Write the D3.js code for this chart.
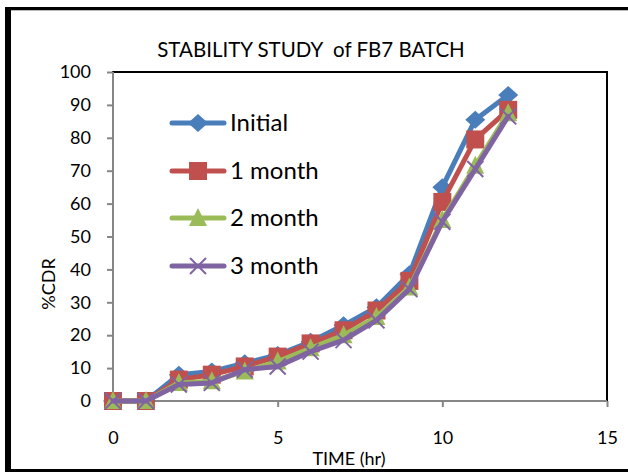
<!DOCTYPE html>
<html>
<head>
<meta charset="utf-8">
<script src="https://cdn.jsdelivr.net/npm/d3@7"></script>
<style>
  body { margin: 0; background: #fff; }
  svg { display: block; font-family: Lato, "Open Sans", sans-serif; }
</style>
</head>
<body>
<svg id="chart" width="628" height="472"></svg>
<script>
var svg = d3.select("#chart");

// data
var hours = [0, 1, 2, 3, 4, 5, 6, 7, 8, 9, 10, 11, 12];
var initial = [0, 0, 8, 9, 11.5, 14, 18, 23, 28.5, 38.5, 65, 85.5, 93];
var month1 = [0, 0, 6.5, 8, 10.5, 13.5, 17.5, 21.5, 27.5, 36.5, 60.5, 79.5, 88.5];
var month2 = [0, 0, 5.5, 6, 9, 12, 16, 20, 25.5, 34.5, 55, 71.5, 87.5];
var month3 = [0, 0, 5, 5.5, 9.5, 10.5, 15, 18.5, 24.5, 34, 54.5, 70.5, 86.5];
var seriesNames = ["Initial", "1 month", "2 month", "3 month"];
var xTicks = [0, 5, 10, 15];
var yTicks = [0, 10, 20, 30, 40, 50, 60, 70, 80, 90, 100];

var colors = ["#4a7ebb", "#c0504d", "#9bbb59", "#8064a2"];
var shapes = ["diamond", "square", "triangle", "cross"];
var allSeries = [initial, month1, month2, month3];

// plot area
var plotLeft = 113, plotRight = 607, plotTop = 72, plotBottom = 401;

var x = d3.scaleLinear().domain([0, 15]).range([plotLeft, plotRight]);
var y = d3.scaleLinear().domain([0, 100]).range([plotBottom, plotTop]);

// outer frame (cropped on the right)
svg.append("rect").attr("x", 5).attr("y", 7).attr("width", 6).attr("height", 465).attr("fill", "#000");
svg.append("rect").attr("x", 5).attr("y", 7).attr("width", 623).attr("height", 3).attr("fill", "#000");
svg.append("rect").attr("x", 5).attr("y", 469).attr("width", 623).attr("height", 3).attr("fill", "#000");
svg.append("line").attr("x1", 11).attr("x2", 628).attr("y1", 10.5).attr("y2", 10.5)
    .attr("stroke", "#bbb").attr("stroke-width", 1);

// plot area border
svg.append("rect")
    .attr("x", plotLeft).attr("y", plotTop)
    .attr("width", plotRight - plotLeft).attr("height", plotBottom - plotTop)
    .attr("fill", "none").attr("stroke", "#000").attr("stroke-width", 2);

// axes
var yAxis = d3.axisLeft(y).tickValues(yTicks).tickSize(6).tickPadding(16);
var xAxis = d3.axisBottom(x).tickValues(xTicks).tickSize(6).tickPadding(24);

var gy = svg.append("g").attr("transform", "translate(" + plotLeft + ",0)").call(yAxis);
var gx = svg.append("g").attr("transform", "translate(0," + plotBottom + ")").call(xAxis);

[gx, gy].forEach(function(g) {
    g.select(".domain").attr("stroke", "#868686").attr("stroke-width", 2);
    g.selectAll(".tick line").attr("stroke", "#868686").attr("stroke-width", 2);
    g.selectAll(".tick text").attr("fill", "#000").attr("font-size", "18px")
        .attr("font-family", "Lato, sans-serif");
});
gy.select(".domain").attr("d", "M0," + plotBottom + "V" + plotTop);
gx.select(".domain").attr("d", "M" + plotLeft + ",0H" + plotRight);

// titles
svg.append("text")
    .attr("x", 311).attr("y", 57)
    .attr("text-anchor", "middle")
    .attr("font-size", "20.5px")
    .style("white-space", "pre")
    .text("STABILITY STUDY  of FB7 BATCH");

svg.append("text")
    .attr("x", 349).attr("y", 465)
    .attr("text-anchor", "middle")
    .attr("font-size", "18px")
    .text("TIME (hr)");

svg.append("text")
    .attr("transform", "translate(55,284) rotate(-90)")
    .attr("text-anchor", "middle")
    .attr("font-size", "18px")
    .text("%CDR");

// marker drawing
function drawMarker(g, shape, color, cx, cy) {
    if (shape == "diamond") {
        g.append("path")
            .attr("d", "M" + cx + "," + (cy - 9) + "L" + (cx + 10) + "," + cy + "L" + cx + "," + (cy + 9) + "L" + (cx - 10) + "," + cy + "Z")
            .attr("fill", color);
    } else if (shape == "square") {
        g.append("rect")
            .attr("x", cx - 9).attr("y", cy - 9).attr("width", 18).attr("height", 18)
            .attr("fill", color);
    } else if (shape == "triangle") {
        g.append("path")
            .attr("d", "M" + cx + "," + (cy - 10) + "L" + (cx + 9) + "," + (cy + 8) + "L" + (cx - 9) + "," + (cy + 8) + "Z")
            .attr("fill", color);
    } else {
        g.append("path")
            .attr("d", "M" + (cx - 8) + "," + (cy - 8) + "L" + (cx + 8) + "," + (cy + 8) + "M" + (cx + 8) + "," + (cy - 8) + "L" + (cx - 8) + "," + (cy + 8))
            .attr("stroke", color).attr("stroke-width", 2).attr("fill", "none");
    }
}

var line = d3.line()
    .x(function(d, i) { return x(hours[i]); })
    .y(function(d) { return y(d); });

allSeries.forEach(function(values, s) {
    var g = svg.append("g");
    g.append("path")
        .attr("d", line(values))
        .attr("fill", "none")
        .attr("stroke", colors[s])
        .attr("stroke-width", 5)
        .attr("stroke-linejoin", "round")
        .attr("stroke-linecap", "round");
    values.forEach(function(v, i) {
        drawMarker(g, shapes[s], colors[s], x(hours[i]), y(v));
    });
});

// legend
var legendY = [123, 171, 218, 266];
seriesNames.forEach(function(name, s) {
    var g = svg.append("g");
    g.append("line")
        .attr("x1", 172).attr("x2", 224)
        .attr("y1", legendY[s]).attr("y2", legendY[s])
        .attr("stroke", colors[s]).attr("stroke-width", 5)
        .attr("stroke-linecap", "round");
    drawMarker(g, shapes[s], colors[s], 198, legendY[s]);
    g.append("text")
        .attr("x", 230).attr("y", legendY[s] + 8)
        .attr("font-size", "24px")
        .text(name);
});
</script>
</body>
</html>
